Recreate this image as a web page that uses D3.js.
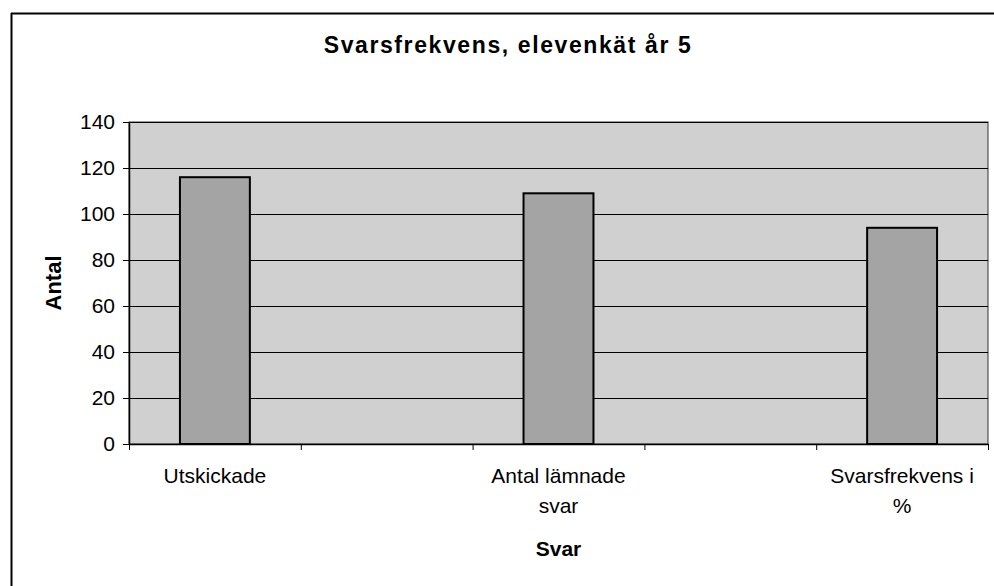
<!DOCTYPE html>
<html>
<head>
<meta charset="utf-8">
<script src="https://cdn.jsdelivr.net/npm/d3@7"></script>
<style>
  html, body { margin: 0; padding: 0; background: #fff; }
  svg { display: block; }
  text { font-family: "Liberation Sans", Arial, sans-serif; fill: #000; }
</style>
</head>
<body>
<script>
const chartTitle = "Svarsfrekvens, elevenkät år 5";
const xTitle = "Svar";
const yTitle = "Antal";
const categories = ["Utskickade", "", "Antal lämnade svar", "", "Svarsfrekvens i %"];
const values = [116, null, 109, null, 94];
const yTicks = [0, 20, 40, 60, 80, 100, 120, 140];

const W = 994, H = 586;
const plot = { left: 129, right: 988, top: 122, bottom: 444 };

const svg = d3.select("body").append("svg").attr("width", W).attr("height", H);

// chart frame (left and top edges visible)
svg.append("line").attr("x1", 11.5).attr("x2", 11.5).attr("y1", 13).attr("y2", H)
  .attr("stroke", "#000").attr("stroke-width", 2);
svg.append("line").attr("x1", 11).attr("x2", W).attr("y1", 13.5).attr("y2", 13.5)
  .attr("stroke", "#000").attr("stroke-width", 2);

const x = d3.scaleBand().domain(d3.range(categories.length))
  .range([plot.left, plot.right]).paddingInner(0.593).paddingOuter(0.2965);
const xb = d3.scaleLinear().domain([0, categories.length]).range([plot.left, plot.right]);
const y = d3.scaleLinear().domain([0, 140]).range([plot.bottom, plot.top]);

// plot background
svg.append("rect").attr("x", plot.left).attr("y", plot.top)
  .attr("width", plot.right - plot.left).attr("height", plot.bottom - plot.top)
  .attr("fill", "#d0d0d0").attr("stroke", "#333").attr("stroke-width", 1);

// gridlines
svg.append("g").selectAll("line").data(yTicks.filter(d => d > 0)).join("line")
  .attr("x1", plot.left).attr("x2", plot.right)
  .attr("y1", d => Math.round(y(d)) + 0.5).attr("y2", d => Math.round(y(d)) + 0.5)
  .attr("stroke", "#000").attr("stroke-width", 1);

// bars
svg.append("g").selectAll("rect")
  .data(values.map((v, i) => ({ v, i })).filter(d => d.v != null)).join("rect")
  .attr("x", d => x(d.i)).attr("width", x.bandwidth())
  .attr("y", d => y(d.v)).attr("height", d => y(0) - y(d.v))
  .attr("fill", "#a4a4a4").attr("stroke", "#000").attr("stroke-width", 2);

// y axis
const yAxis = svg.append("g").attr("transform", `translate(${plot.left},0)`)
  .call(d3.axisLeft(y).tickValues(yTicks).tickSize(6).tickPadding(8).tickSizeOuter(0));
yAxis.select(".domain").attr("stroke", "#000").attr("stroke-width", 1.5);
yAxis.selectAll(".tick line").attr("stroke", "#000");
yAxis.selectAll("text").style("font-size", "21px").attr("fill", "#000");

// x axis
const xAxis = svg.append("g").attr("transform", `translate(0,${plot.bottom})`)
  .call(d3.axisBottom(xb).tickValues(d3.range(categories.length + 1))
    .tickFormat("").tickSize(6).tickSizeOuter(0));
xAxis.select(".domain").attr("stroke", "#000").attr("stroke-width", 1.5);
xAxis.selectAll(".tick line").attr("stroke", "#000");

// category labels (wrapped)
const maxW = 160;
const labels = svg.append("g");
categories.forEach((c, i) => {
  if (!c) return;
  const cx = x(i) + x.bandwidth() / 2;
  const t = labels.append("text").attr("x", cx).attr("y", 483)
    .attr("text-anchor", "middle").style("font-size", "21px");
  const words = c.split(" ");
  let line = [];
  let tspan = t.append("tspan").attr("x", cx).attr("dy", 0);
  words.forEach(w => {
    line.push(w);
    tspan.text(line.join(" "));
    if (tspan.node().getComputedTextLength() > maxW && line.length > 1) {
      line.pop();
      tspan.text(line.join(" "));
      line = [w];
      tspan = t.append("tspan").attr("x", cx).attr("dy", 30).text(w);
    }
  });
});

// titles
svg.append("text").attr("x", 508).attr("y", 53).attr("text-anchor", "middle")
  .style("font-size", "23px").style("font-weight", "bold").style("letter-spacing", "1.6px")
  .text(chartTitle);
svg.append("text").attr("x", (plot.left + plot.right) / 2).attr("y", 556)
  .attr("text-anchor", "middle").style("font-size", "21px").style("font-weight", "bold")
  .text(xTitle);
svg.append("text").attr("transform", `translate(61,${(plot.top + plot.bottom) / 2}) rotate(-90)`)
  .attr("text-anchor", "middle").style("font-size", "22px").style("font-weight", "bold")
  .text(yTitle);
</script>
</body>
</html>
